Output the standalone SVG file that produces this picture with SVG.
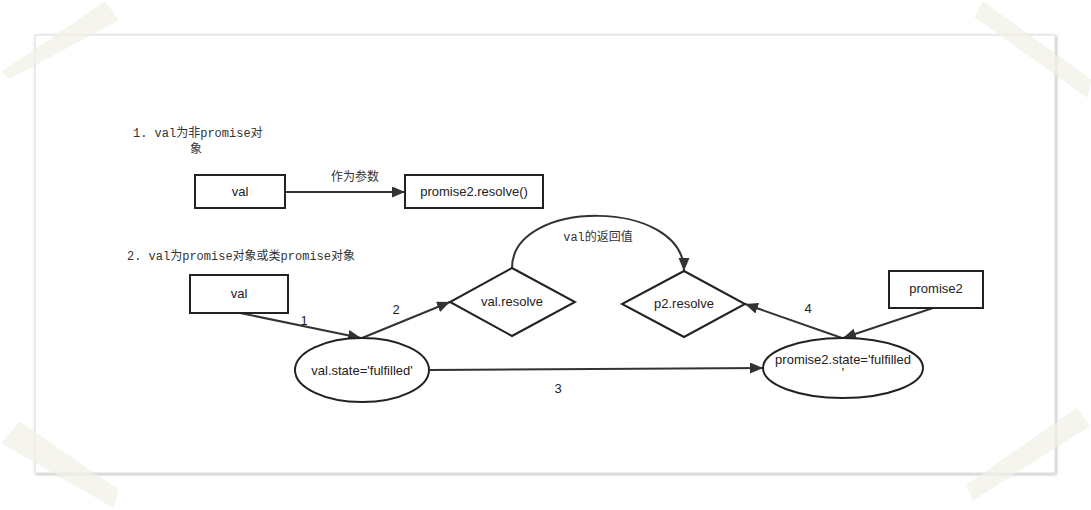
<svg xmlns="http://www.w3.org/2000/svg" width="1091" height="510" viewBox="0 0 1091 510">
<defs>
<filter id="shadow" x="-5%" y="-5%" width="110%" height="110%">
<feDropShadow dx="1" dy="1" stdDeviation="1.5" flood-color="#000" flood-opacity="0.3"/>
</filter>
<marker id="arr" markerUnits="userSpaceOnUse" markerWidth="14" markerHeight="12" refX="13" refY="5.5" orient="auto">
<path d="M0,0 L13,5.5 L0,11 z" fill="#333"/>
</marker>
</defs>
<style>
.ln{fill:none;stroke:#333;stroke-width:2}
.nd{fill:#fff;stroke:#222;stroke-width:2}
.t{font-family:"Liberation Sans",Arial,sans-serif;font-size:13px;fill:#222;text-anchor:middle}
.c{font-family:"Liberation Mono","Noto Sans CJK SC",monospace;font-size:12px;fill:#333}
.tape{fill:#f2f1e8;opacity:0.7;stroke:#eceadf;stroke-width:0.8}
</style>
<rect width="1091" height="510" fill="#fff"/>
<rect x="35" y="35" width="1020" height="438" fill="#fff" stroke="#dcdcdc" stroke-width="1" filter="url(#shadow)"/>

<g id="tapes">
<polygon class="tape" points="2,72 10,78 118,20 105,2"/>
<polygon class="tape" points="975,17 983,2 1091,80 1087,97"/>
<polygon class="tape" points="2,443 20,422 118,490 113,507"/>
<polygon class="tape" points="967,485 973,500 1089,426 1077,408"/>
</g>

<g id="title1">
<text class="c" x="133" y="137">1. val为非promise对</text>
<text class="c" x="190" y="153">象</text>
</g>
<g id="title2">
<text class="c" x="127" y="260">2. val为promise对象或类promise对象</text>
</g>

<g id="connectors">
<path class="ln" d="M285,192 L405,192" marker-end="url(#arr)"/>
<path class="ln" d="M240,313 L361,338" marker-end="url(#arr)"/>
<path class="ln" d="M362,338 L450,302" marker-end="url(#arr)"/>
<path class="ln" d="M512,268 C512,198 684,198 684,271" marker-end="url(#arr)"/>
<path class="ln" d="M430,370 L763,368" marker-end="url(#arr)"/>
<path class="ln" d="M933,308 L843,338" marker-end="url(#arr)"/>
<path class="ln" d="M842,338 L745,304" marker-end="url(#arr)"/>
<text class="c" x="355" y="181" text-anchor="middle">作为参数</text>
<text class="c" x="598" y="241" text-anchor="middle">val的返回值</text>
<text class="t" x="304" y="325">1</text>
<text class="t" x="396" y="314">2</text>
<text class="t" x="558" y="393">3</text>
<text class="t" x="808" y="313">4</text>
</g>

<g id="val1">
<rect class="nd" x="195" y="175" width="90" height="33"/>
<text class="t" x="240" y="196">val</text>
</g>
<g id="p2resolve1">
<rect class="nd" x="405" y="175" width="138" height="33"/>
<text class="t" x="474" y="196">promise2.resolve()</text>
</g>
<g id="val2">
<rect class="nd" x="190" y="275" width="98" height="38"/>
<text class="t" x="239" y="298">val</text>
</g>
<g id="valstate">
<ellipse class="nd" cx="362" cy="370" rx="67" ry="32"/>
<text class="t" x="362" y="375">val.state='fulfilled'</text>
</g>
<g id="valresolve">
<polygon class="nd" points="512,268 575,302 512,336 450,302"/>
<text class="t" x="512" y="306">val.resolve</text>
</g>
<g id="p2resolve">
<polygon class="nd" points="684,271 745,304 684,337 622,304"/>
<text class="t" x="684" y="308">p2.resolve</text>
</g>
<g id="promise2">
<rect class="nd" x="889" y="271" width="94" height="37"/>
<text class="t" x="936" y="293">promise2</text>
</g>
<g id="p2state">
<ellipse class="nd" cx="843" cy="368" rx="80" ry="30"/>
<text class="t" x="843" y="364">promise2.state='fulfilled</text>
<text class="t" x="843" y="377">'</text>
</g>
</svg>
